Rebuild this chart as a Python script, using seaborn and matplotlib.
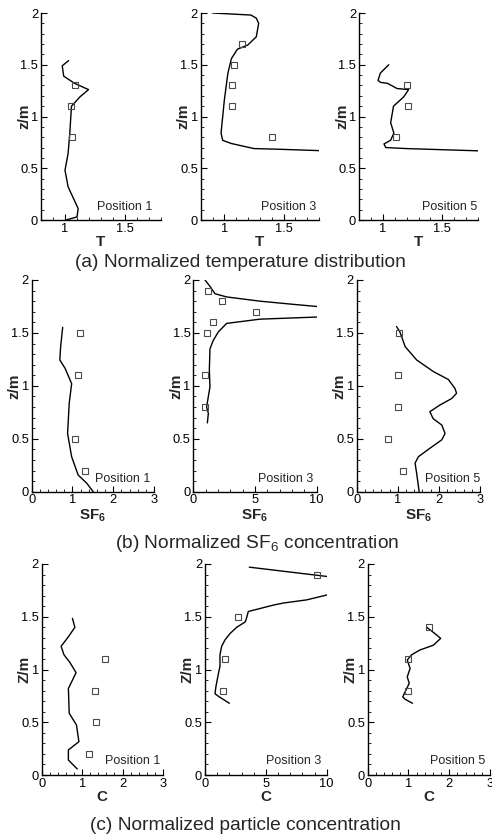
import numpy as np
import matplotlib
matplotlib.use('Agg')
import matplotlib.pyplot as plt
from matplotlib.ticker import MultipleLocator, FormatStrFormatter
import seaborn as sns

sns.set_theme(style='ticks')
plt.rcParams['font.family'] = ['Liberation Sans', 'DejaVu Sans']
plt.rcParams['mathtext.fontset'] = 'custom'
plt.rcParams['mathtext.rm'] = 'Liberation Sans'
plt.rcParams['mathtext.bf'] = 'Liberation Sans:bold'
plt.rcParams['mathtext.it'] = 'Liberation Sans:italic'

# ---- (a) normalized temperature ----
t1_line_x = [1.03, 0.977, 0.989, 1.08, 1.196, 1.125, 1.054, 1.04, 1.026, 1.0, 1.026, 1.11, 1.10, 1.01]
t1_line_z = [1.54, 1.49, 1.39, 1.32, 1.26, 1.19, 1.10, 0.84, 0.645, 0.48, 0.32, 0.11, 0.03, 0.0]
t1_pts_x = [1.08, 1.05, 1.06]
t1_pts_z = [1.3, 1.1, 0.8]

t3_line_x = [0.90, 1.225, 1.27, 1.29, 1.27, 1.197, 1.11, 1.06, 1.03, 1.0, 0.986, 0.972, 0.986, 1.056, 1.25, 1.45, 1.81]
t3_line_z = [2.0, 1.98, 1.95, 1.90, 1.77, 1.69, 1.65, 1.56, 1.42, 1.16, 1.0, 0.84, 0.77, 0.74, 0.69, 0.684, 0.67]
t3_pts_x = [1.146, 1.08, 1.067, 1.067, 1.40]
t3_pts_z = [1.7, 1.5, 1.3, 1.1, 0.8]

t5_line_x = [1.05, 0.98, 0.96, 0.98, 1.04, 1.12, 1.217, 1.176, 1.09, 1.066, 1.093, 1.066, 1.01, 1.025, 1.20, 1.81]
t5_line_z = [1.5, 1.42, 1.35, 1.33, 1.32, 1.27, 1.26, 1.19, 1.10, 0.94, 0.84, 0.77, 0.735, 0.70, 0.69, 0.668]
t5_pts_x = [1.203, 1.21, 1.11]
t5_pts_z = [1.3, 1.1, 0.8]

# ---- (b) normalized SF6 ----
s1_line_x = [0.76, 0.71, 0.69, 0.82, 0.98, 0.92, 0.88, 0.98, 1.14, 1.35, 1.51]
s1_line_z = [1.553, 1.37, 1.244, 1.165, 1.02, 0.835, 0.55, 0.33, 0.157, 0.08, 0.0]
s1_pts_x = [1.19, 1.13, 1.07, 1.30]
s1_pts_z = [1.5, 1.1, 0.5, 0.2]

s3_line_x = [0.95, 1.35, 1.76, 2.7, 5.4, 8.1, 10.0, 16.8, 10.0, 5.4, 2.7, 2.03, 1.62, 1.35, 1.30, 1.35, 1.22, 1.08, 1.22, 1.14]
s3_line_z = [2.0, 1.94, 1.87, 1.84, 1.80, 1.77, 1.75, 1.68, 1.65, 1.63, 1.59, 1.51, 1.43, 1.35, 1.15, 0.99, 0.90, 0.80, 0.74, 0.65]
s3_pts_x = [1.16, 2.3, 5.08, 1.62, 1.08, 0.95, 0.95]
s3_pts_z = [1.9, 1.8, 1.7, 1.6, 1.5, 1.1, 0.8]

s5_line_x = [0.97, 1.05, 1.18, 1.46, 1.87, 2.23, 2.39, 2.43, 2.31, 2.03, 1.78, 1.86, 2.07, 2.15, 2.07, 1.78, 1.50, 1.42, 1.46, 1.52]
s5_line_z = [1.56, 1.51, 1.37, 1.244, 1.134, 1.06, 0.976, 0.93, 0.88, 0.82, 0.756, 0.69, 0.63, 0.55, 0.49, 0.41, 0.33, 0.27, 0.17, 0.0]
s5_pts_x = [1.03, 1.01, 1.01, 0.75, 1.12]
s5_pts_z = [1.5, 1.1, 0.8, 0.5, 0.2]

# ---- (c) normalized particle concentration ----
c1_line_x = [0.76, 0.82, 0.66, 0.48, 0.55, 0.70, 0.85, 0.66, 0.68, 0.86, 0.92, 0.66, 0.66, 0.88]
c1_line_z = [1.485, 1.40, 1.31, 1.22, 1.14, 1.065, 0.97, 0.82, 0.585, 0.474, 0.316, 0.237, 0.142, 0.057]
c1_pts_x = [1.56, 1.33, 1.34, 1.16]
c1_pts_z = [1.1, 0.8, 0.5, 0.2]

c3_line_x = [3.64, 14.5, 10.0, 8.36, 6.44, 5.6, 4.25, 3.56, 3.37, 3.29, 2.6, 2.05, 1.64, 1.37, 1.23, 1.23, 1.10, 0.90, 0.82, 1.18, 2.0]
c3_line_z = [1.97, 1.82, 1.706, 1.66, 1.63, 1.61, 1.57, 1.55, 1.47, 1.45, 1.40, 1.34, 1.28, 1.22, 1.14, 1.03, 0.96, 0.84, 0.77, 0.74, 0.68]
c3_pts_x = [9.18, 2.68, 1.64, 1.45]
c3_pts_z = [1.9, 1.5, 1.1, 0.8]

c5_line_x = [1.45, 1.65, 1.79, 1.61, 1.28, 1.08, 0.97, 1.04, 0.97, 1.02, 0.94, 0.86, 0.92, 1.10]
c5_line_z = [1.40, 1.34, 1.295, 1.23, 1.185, 1.14, 1.09, 1.01, 0.93, 0.87, 0.806, 0.74, 0.717, 0.68]
c5_pts_x = [1.51, 0.98, 0.98]
c5_pts_z = [1.4, 1.1, 0.8]

captions = ['(a) Normalized temperature distribution',
            '(b) Normalized SF$_6$ concentration',
            '(c) Normalized particle concentration']

W, H = 492, 835
fig = plt.figure(figsize=(W / 100, H / 100), dpi=100)


def panel(rect, lx, lz, px, pz, xlim, xmaj, xmin, xlabel, ylabel, pos, tx, ty):
    left, top, width, bottom = rect
    ax = fig.add_axes([left / W, 1 - bottom / H, width / W, (bottom - top) / H])
    sns.lineplot(x=lx, y=lz, sort=False, estimator=None, color='black', lw=1.0, ax=ax)
    sns.lineplot(x=px, y=pz, sort=False, estimator=None, linestyle='', marker='s',
                 markersize=5, markerfacecolor='none', markeredgecolor='#4a4a4a',
                 markeredgewidth=0.8, ax=ax)
    ax.set_xlim(*xlim)
    ax.set_ylim(0, 2)
    ax.xaxis.set_major_locator(MultipleLocator(xmaj))
    ax.xaxis.set_minor_locator(MultipleLocator(xmin))
    ax.yaxis.set_major_locator(MultipleLocator(0.5))
    ax.yaxis.set_minor_locator(MultipleLocator(0.1))
    ax.xaxis.set_major_formatter(FormatStrFormatter('%g'))
    ax.yaxis.set_major_formatter(FormatStrFormatter('%g'))
    ax.tick_params(which='major', direction='in', length=4.5, width=0.8, labelsize=9.3,
                   pad=2, colors='black')
    ax.tick_params(which='minor', direction='in', length=2.2, width=0.7)
    sns.despine(ax=ax)
    for s in ['left', 'bottom']:
        ax.spines[s].set_color('black')
        ax.spines[s].set_linewidth(1.0)
    ax.set_xlabel(xlabel, fontsize=11, fontweight='bold', labelpad=0.5)
    ax.set_ylabel(ylabel, fontsize=11, fontweight='bold')
    ax.yaxis.set_label_coords(-10 / width, 0.5)
    ax.text(tx, ty, pos, transform=ax.transAxes, ha='right', va='bottom', fontsize=9)
    ax.set_facecolor('white')
    return ax


row_a = (13, 220)
row_b = (280, 491.7)
row_c = (564, 775)

panel((41, row_a[0], 120, row_a[1]), t1_line_x, t1_line_z, t1_pts_x, t1_pts_z,
      (0.8, 1.8), 0.5, 0.1, 'T', 'z/m', 'Position 1', 0.93, 0.035)
panel((200.7, row_a[0], 118.3, row_a[1]), t3_line_x, t3_line_z, t3_pts_x, t3_pts_z,
      (0.8, 1.8), 0.5, 0.1, 'T', 'z/m', 'Position 3', 0.98, 0.035)
panel((359, row_a[0], 119, row_a[1]), t5_line_x, t5_line_z, t5_pts_x, t5_pts_z,
      (0.8, 1.8), 0.5, 0.1, 'T', 'z/m', 'Position 5', 0.99, 0.035)

panel((31.7, row_b[0], 122.3, row_b[1]), s1_line_x, s1_line_z, s1_pts_x, s1_pts_z,
      (0, 3), 1, 0.2, r'$\mathbf{SF_6}$', 'z/m', 'Position 1', 0.97, 0.03)
panel((193.3, row_b[0], 123.4, row_b[1]), s3_line_x, s3_line_z, s3_pts_x, s3_pts_z,
      (0, 10), 5, 1, r'$\mathbf{SF_6}$', 'z/m', 'Position 3', 0.97, 0.03)
panel((356.7, row_b[0], 123.3, row_b[1]), s5_line_x, s5_line_z, s5_pts_x, s5_pts_z,
      (0, 3), 1, 0.2, r'$\mathbf{SF_6}$', 'z/m', 'Position 5', 1.0, 0.03)

panel((41.7, row_c[0], 121.3, row_c[1]), c1_line_x, c1_line_z, c1_pts_x, c1_pts_z,
      (0, 3), 1, 0.2, 'C', 'Z/m', 'Position 1', 0.98, 0.04)
panel((205, row_c[0], 121.7, row_c[1]), c3_line_x, c3_line_z, c3_pts_x, c3_pts_z,
      (0, 10), 5, 1, 'C', 'Z/m', 'Position 3', 0.955, 0.04)
panel((367.7, row_c[0], 122.3, row_c[1]), c5_line_x, c5_line_z, c5_pts_x, c5_pts_z,
      (0, 3), 1, 0.2, 'C', 'Z/m', 'Position 5', 0.965, 0.04)

fig.text(0.489, 1 - 262 / H, captions[0], ha='center', va='center', fontsize=13.8)
fig.text(0.523, 1 - 543 / H, captions[1], ha='center', va='center', fontsize=13.8)
fig.text(0.498, 1 - 825 / H, captions[2], ha='center', va='center', fontsize=13.8)

fig.savefig('out.png', dpi=100, facecolor='white')
